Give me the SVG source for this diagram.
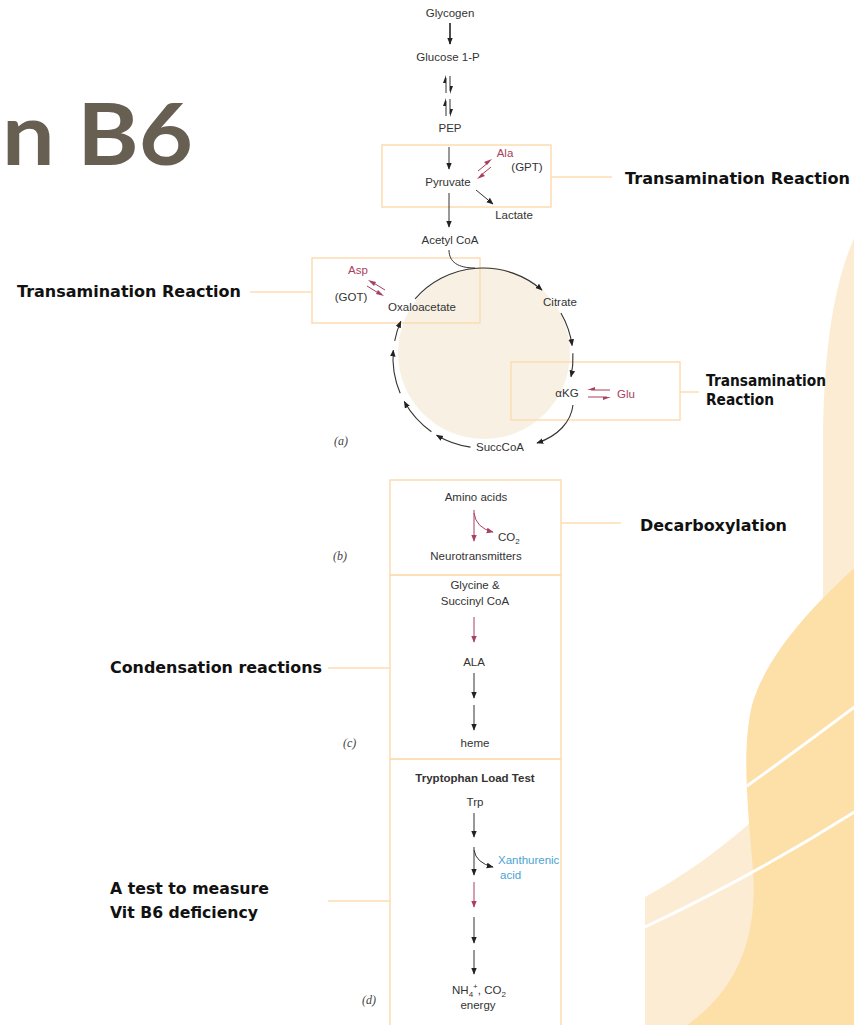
<svg xmlns="http://www.w3.org/2000/svg" width="854" height="1025" viewBox="0 0 854 1025">
<defs>
<style>
.t{font-family:"Liberation Sans",Arial,sans-serif;font-size:11.5px;fill:#333}
.r{fill:#a8415e}
.b{fill:#4ba3d3}
.lab{font-family:"DejaVu Sans",sans-serif;font-weight:bold;font-size:15.5px;fill:#111}
.pl{font-family:"Liberation Serif",serif;font-style:italic;font-size:12px;fill:#444}
.box{fill:none;stroke:#fcdcb2;stroke-width:1.5}
.con{fill:none;stroke:#fcdcb2;stroke-width:1.5}
.a{fill:none;stroke:#333;stroke-width:1;marker-end:url(#ah)}
.ar{fill:none;stroke:#a8415e;stroke-width:1;marker-end:url(#ahr)}
.c{fill:none;stroke:#333;stroke-width:1.1;marker-end:url(#ah)}
.h{fill:none;stroke:#333;stroke-width:1}
.hr{fill:none;stroke:#a8415e;stroke-width:1}
</style>
<marker id="ah" viewBox="0 0 10 10" refX="9" refY="5" markerWidth="7" markerHeight="7" orient="auto" markerUnits="userSpaceOnUse"><path d="M0,1 L10,5 L0,9 z" fill="#222"/></marker>
<marker id="ahr" viewBox="0 0 10 10" refX="9" refY="5" markerWidth="7" markerHeight="7" orient="auto" markerUnits="userSpaceOnUse"><path d="M0,1 L10,5 L0,9 z" fill="#a8415e"/></marker>
</defs>
<rect width="854" height="1025" fill="#fff"/>
<g id="background">
<path d="M854,238 C836,280 823,340 823,450 L823,650 L800,800 L751,822 C720,850 680,878 645,897 L645,1025 L854,1025 Z" fill="#fdecd4"/>
<path d="M854,568 C820,600 768,650 752,705 C742,748 747,800 753,870 C757,925 745,985 687,1025 L854,1025 Z" fill="#fddfa8"/>
<path d="M747,786 Q800,748 856,706" fill="none" stroke="#fff" stroke-width="3"/>
<path d="M645,927 Q755,875 856,811" fill="none" stroke="#fff" stroke-width="3"/>
</g>
<g id="title"><text x="2" y="165" font-family="Lato,sans-serif" font-weight="bold" font-size="86" fill="#675f52" textLength="191" lengthAdjust="spacingAndGlyphs">n B6</text></g>
<g id="tca-fill"><circle cx="484" cy="353" r="86" fill="#f8f1e3"/></g>
<g id="boxes">
<rect class="box" x="382" y="145" width="169" height="62"/>
<rect class="box" x="312" y="258" width="168" height="65"/>
<rect class="box" x="511" y="362" width="169" height="58"/>
<rect class="box" x="390" y="480" width="171" height="95"/>
<rect class="box" x="390" y="575" width="171" height="184"/>
<path class="box" d="M390,1026 L390,759 L561,759 L561,1026"/>
</g>
<g id="connectors">
<path class="con" d="M551,177 L612,177"/>
<path class="con" d="M250,292 L312,292"/>
<path class="con" d="M680,392 L699,392"/>
<path class="con" d="M561,523 L621,523"/>
<path class="con" d="M328,668 L390,668"/>
<path class="con" d="M328,901 L390,901"/>
<path d="M450,23 L450,44" fill="none" stroke="#222" stroke-width="1.6" marker-end="url(#ah)"/>
<path class="h" d="M446,93 L446,78"/><path d="M446,75 L443,83 L446,83 z" fill="#222"/>
<path class="h" d="M450,76 L450,91"/><path d="M450,94 L453,86 L450,86 z" fill="#222"/>
<path class="h" d="M446,116 L446,101"/><path d="M446,98 L443,106 L446,106 z" fill="#222"/>
<path class="h" d="M450,99 L450,114"/><path d="M450,117 L453,109 L450,109 z" fill="#222"/>
<path class="a" d="M449,147 L449,169"/>
<path class="a" d="M449,193 L449,227"/>
<path class="a" d="M476,190 L493,204"/>
<path class="hr" d="M478,171 L489,162"/><path d="M492,159 L484,162 L487,165 z" fill="#a8415e"/>
<path class="hr" d="M491,167 L480,176"/><path d="M477,179 L485,176 L482,173 z" fill="#a8415e"/>
<path class="hr" d="M385,290 L372,282"/><path d="M368,280 L374,286 L376,282 z" fill="#a8415e"/>
<path class="hr" d="M367,286 L380,294"/><path d="M384,296 L378,290 L376,294 z" fill="#a8415e"/>
<path class="hr" d="M610,390 L591,390"/><path d="M587,390 L595,387 L595,390 z" fill="#a8415e"/>
<path class="hr" d="M588,397 L607,397"/><path d="M611,397 L603,400 L603,397 z" fill="#a8415e"/>
<path class="h" d="M449,250 C449,262 458,268 475,268"/>
<path class="c" d="M415.1,298.9 A90,90 0 0 1 542,290.1"/>
<path class="c" d="M560.9,313 A90,90 0 0 1 572.1,345.5"/>
<path class="c" d="M572.9,353.3 A90,90 0 0 1 571,376.7"/>
<path class="c" d="M573,405 C571,422 558,436 537,443"/>
<path class="c" d="M470.5,447.1 A90,90 0 0 1 436.6,435.2"/>
<path class="c" d="M431.4,431.7 A90,90 0 0 1 404.3,401.6"/>
<path class="c" d="M400.2,393.2 A90,90 0 0 1 393.3,350.2"/>
<path class="c" d="M394.7,340.8 A90,90 0 0 1 400.8,321.4"/>
<path class="ar" d="M474,510 L474,541"/>
<path class="ar" d="M474,513 Q476,528 493,532"/>
<path class="ar" d="M474,617 L474,642"/>
<path class="a" d="M474,673 L474,698"/>
<path class="a" d="M474,705 L474,730"/>
<path class="a" d="M474,813 L474,837"/>
<path class="a" d="M474,847 L474,875"/>
<path class="a" d="M474,850 Q476,863 493,867"/>
<path class="ar" d="M474,882 L474,907"/>
<path class="a" d="M474,917 L474,943"/>
<path class="a" d="M474,950 L474,974"/>
</g>
<g id="n-glycogen"><text class="t" x="450" y="17" text-anchor="middle">Glycogen</text></g>
<g id="n-glucose"><text class="t" x="448" y="61" text-anchor="middle">Glucose 1-P</text></g>
<g id="n-pep"><text class="t" x="450" y="132" text-anchor="middle">PEP</text></g>
<g id="n-pyruvate"><text class="t" x="448" y="186" text-anchor="middle">Pyruvate</text></g>
<g id="n-ala"><text class="t r" x="505" y="157" text-anchor="middle">Ala</text><text class="t" x="527" y="171" text-anchor="middle">(GPT)</text></g>
<g id="n-lactate"><text class="t" x="514" y="219" text-anchor="middle">Lactate</text></g>
<g id="n-acetyl"><text class="t" x="450" y="244" text-anchor="middle">Acetyl CoA</text></g>
<g id="n-asp"><text class="t r" x="358" y="274" text-anchor="middle">Asp</text><text class="t" x="351" y="301" text-anchor="middle">(GOT)</text></g>
<g id="n-oxaloacetate"><text class="t" x="422" y="311" text-anchor="middle">Oxaloacetate</text></g>
<g id="n-citrate"><text class="t" x="560" y="306" text-anchor="middle">Citrate</text></g>
<g id="n-akg"><text class="t" x="567" y="397" text-anchor="middle">αKG</text></g>
<g id="n-glu"><text class="t r" x="626" y="398" text-anchor="middle">Glu</text></g>
<g id="n-succcoa"><text class="t" x="500" y="451" text-anchor="middle">SuccCoA</text></g>
<g id="n-a"><text class="pl" x="334" y="445">(a)</text></g>
<g id="n-amino"><text class="t" x="476" y="501" text-anchor="middle">Amino acids</text></g>
<g id="n-co2"><text class="t" x="498" y="541">CO<tspan font-size="8" dy="3">2</tspan></text></g>
<g id="n-neuro"><text class="t" x="476" y="560" text-anchor="middle">Neurotransmitters</text></g>
<g id="n-b"><text class="pl" x="333" y="560">(b)</text></g>
<g id="n-glycine"><text class="t" x="475" y="589" text-anchor="middle">Glycine &amp;</text><text class="t" x="475" y="605" text-anchor="middle">Succinyl CoA</text></g>
<g id="n-ala2"><text class="t" x="474" y="666" text-anchor="middle">ALA</text></g>
<g id="n-heme"><text class="t" x="475" y="747" text-anchor="middle">heme</text></g>
<g id="n-c"><text class="pl" x="343" y="747">(c)</text></g>
<g id="n-trptest"><text class="t" x="475" y="782" text-anchor="middle" font-weight="bold" fill="#222">Tryptophan Load Test</text></g>
<g id="n-trp"><text class="t" x="475" y="806" text-anchor="middle">Trp</text></g>
<g id="n-xanth"><text class="t b" x="498" y="864">Xanthurenic</text><text class="t b" x="500" y="879">acid</text></g>
<g id="n-nh4"><text class="t" x="452" y="994">NH<tspan font-size="8" dy="3">4</tspan><tspan font-size="8" dy="-8">+</tspan><tspan dy="5">, CO</tspan><tspan font-size="8" dy="3">2</tspan></text><text class="t" x="478" y="1009" text-anchor="middle">energy</text></g>
<g id="n-d"><text class="pl" x="362" y="1004">(d)</text></g>
<g id="labels">
<text class="lab" x="625" y="184" textLength="225" lengthAdjust="spacingAndGlyphs">Transamination Reaction</text>
<text class="lab" x="17" y="297" textLength="224" lengthAdjust="spacingAndGlyphs">Transamination Reaction</text>
<text class="lab" x="706" y="386" textLength="120" lengthAdjust="spacingAndGlyphs">Transamination</text>
<text class="lab" x="706" y="405" textLength="68" lengthAdjust="spacingAndGlyphs">Reaction</text>
<text class="lab" x="640" y="531" textLength="147" lengthAdjust="spacingAndGlyphs">Decarboxylation</text>
<text class="lab" x="110" y="673" textLength="212" lengthAdjust="spacingAndGlyphs">Condensation reactions</text>
<text class="lab" x="110" y="894" textLength="159" lengthAdjust="spacingAndGlyphs">A test to measure</text>
<text class="lab" x="110" y="918" textLength="148" lengthAdjust="spacingAndGlyphs">Vit B6 deficiency</text>
</g>
</svg>
